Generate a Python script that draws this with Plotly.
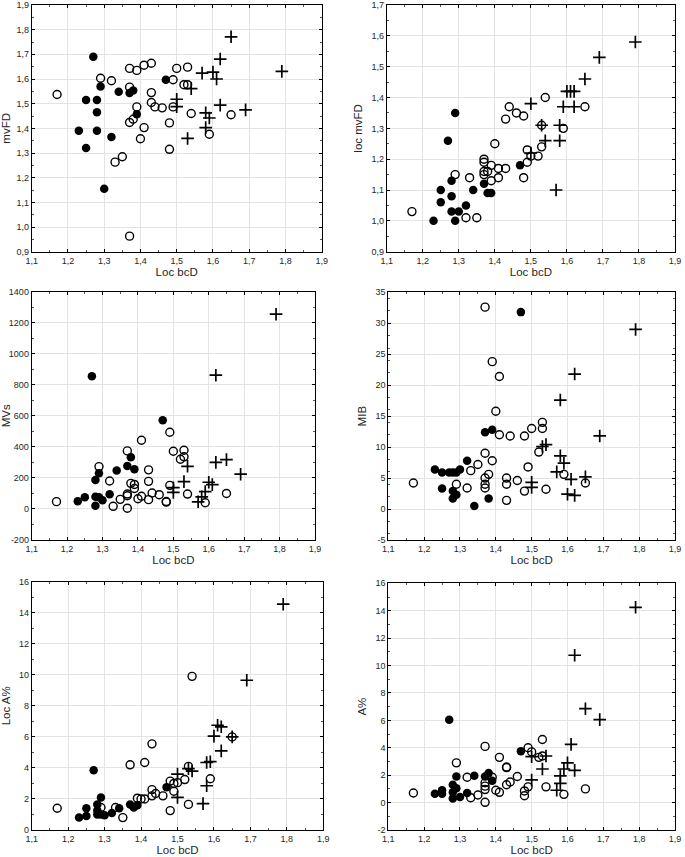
import plotly.graph_objects as go

# ---------------- data ----------------
X_TICKS = [1.1, 1.2, 1.3, 1.4, 1.5, 1.6, 1.7, 1.8, 1.9]
X_TITLE = "Loc bcD"

# Panel 1: mvFD
MVFD_F_X = [1.23, 1.25, 1.25, 1.27, 1.28, 1.28, 1.28, 1.29, 1.30, 1.32, 1.34, 1.37, 1.38, 1.39, 1.47]
MVFD_F_Y = [1.39, 1.515, 1.32, 1.69, 1.515, 1.465, 1.39, 1.57, 1.155, 1.365, 1.548, 1.543, 1.553, 1.457, 1.597]
MVFD_O_X = [1.17, 1.29, 1.32, 1.37, 1.39, 1.41, 1.43, 1.37, 1.39, 1.38, 1.37, 1.41, 1.40, 1.43, 1.43, 1.44,
            1.46, 1.49, 1.48, 1.48, 1.49, 1.50, 1.52, 1.53, 1.53, 1.54, 1.59, 1.65, 1.33, 1.35, 1.37]
MVFD_O_Y = [1.537, 1.603, 1.593, 1.643, 1.635, 1.656, 1.664, 1.567, 1.487, 1.437, 1.424, 1.403, 1.358, 1.545,
            1.505, 1.487, 1.483, 1.487, 1.422, 1.315, 1.597, 1.643, 1.577, 1.577, 1.648, 1.46, 1.376, 1.455,
            1.263, 1.285, 0.963]
MVFD_P_X = [1.65, 1.62, 1.57, 1.60, 1.61, 1.79, 1.50, 1.50, 1.54, 1.62, 1.69, 1.58, 1.59, 1.58, 1.53]
MVFD_P_Y = [1.771, 1.681, 1.624, 1.628, 1.60, 1.631, 1.518, 1.488, 1.561, 1.494, 1.475, 1.463, 1.442, 1.403, 1.359]
MVFD_Y_TICKS = [0.9, 1.0, 1.1, 1.2, 1.3, 1.4, 1.5, 1.6, 1.7, 1.8, 1.9]

# Panel 2: loc mvFD
LMVFD_F_X = [1.23, 1.25, 1.25, 1.27, 1.28, 1.28, 1.28, 1.29, 1.29, 1.30, 1.32, 1.34, 1.37, 1.38, 1.39, 1.47]
LMVFD_F_Y = [1.00, 1.10, 1.06, 1.26, 1.13, 1.08, 1.03, 1.35, 1.00, 1.03, 1.05, 1.10, 1.12, 1.09, 1.09, 1.18]
LMVFD_O_X = [1.17, 1.29, 1.33, 1.32, 1.35, 1.37, 1.37, 1.37, 1.37, 1.38, 1.39, 1.39, 1.41, 1.41, 1.43,
             1.40, 1.43, 1.44, 1.46, 1.48, 1.48, 1.49, 1.49, 1.50, 1.52, 1.53, 1.53, 1.54, 1.59, 1.65]
LMVFD_O_Y = [1.03, 1.15, 1.14, 1.01, 1.01, 1.20, 1.19, 1.16, 1.15, 1.16, 1.18, 1.13, 1.17, 1.14, 1.17,
             1.25, 1.33, 1.37, 1.35, 1.34, 1.14, 1.23, 1.19, 1.21, 1.21, 1.24, 1.31, 1.40, 1.30, 1.37]
LMVFD_P_X = [1.79, 1.69, 1.65, 1.60, 1.61, 1.62, 1.59, 1.62, 1.50, 1.58, 1.53, 1.54, 1.58, 1.57, 1.50]
LMVFD_P_Y = [1.58, 1.53, 1.46, 1.42, 1.42, 1.42, 1.37, 1.37, 1.38, 1.31, 1.31, 1.26, 1.26, 1.10, 1.22]
LMVFD_Y_TICKS = [0.9, 1.0, 1.1, 1.2, 1.3, 1.4, 1.5, 1.6, 1.7]

# Panel 3: MVs
MVS_F_X = [1.23, 1.25, 1.27, 1.28, 1.28, 1.28, 1.29, 1.29, 1.30, 1.32, 1.34, 1.37, 1.38, 1.39, 1.47]
MVS_F_Y = [50, 76, 855, 187, 78, 20, 230, 76, 56, 95, 248, 277, 334, 256, 571]
MVS_O_X = [1.17, 1.29, 1.32, 1.33, 1.35, 1.37, 1.37, 1.37, 1.37, 1.38, 1.39, 1.39, 1.40, 1.41, 1.41, 1.43,
           1.43, 1.43, 1.44, 1.46, 1.48, 1.48, 1.49, 1.49, 1.50, 1.52, 1.53, 1.53, 1.54, 1.59, 1.65]
MVS_O_Y = [47, 273, 180, 17, 62, 85, 96, 5, 374, 165, 158, 132, 66, 82, 443, 252,
           178, 60, 103, 92, 44, 48, 494, 152, 372, 320, 378, 336, 96, 40, 100]
MVS_P_X = [1.79, 1.62, 1.65, 1.62, 1.69, 1.54, 1.53, 1.60, 1.61, 1.50, 1.50, 1.59, 1.58, 1.57]
MVS_P_Y = [1255, 862, 318, 300, 224, 275, 176, 172, 157, 137, 107, 112, 78, 46]
MVS_Y_TICKS = [-200, 0, 200, 400, 600, 800, 1000, 1200, 1400]

# Panel 4: MIB
MIB_F_X = [1.23, 1.25, 1.27, 1.28, 1.29, 1.30, 1.32, 1.25, 1.28, 1.28, 1.29, 1.34, 1.37, 1.39, 1.38, 1.47]
MIB_F_Y = [6.4, 5.9, 5.9, 5.9, 5.9, 6.4, 7.8, 3.3, 2.9, 1.7, 2.3, 0.5, 12.4, 12.8, 1.7, 31.8]
MIB_O_X = [1.17, 1.29, 1.32, 1.33, 1.35, 1.37, 1.37, 1.37, 1.37, 1.37, 1.38, 1.39, 1.39, 1.40, 1.41, 1.41,
           1.43, 1.43, 1.43, 1.44, 1.46, 1.48, 1.48, 1.49, 1.50, 1.52, 1.53, 1.53, 1.54, 1.59, 1.65]
MIB_O_Y = [4.2, 4.0, 3.4, 6.2, 7.2, 9.0, 5.0, 4.0, 3.4, 32.6, 5.6, 7.8, 23.8, 15.8, 12.0, 21.4,
           5.0, 4.0, 1.4, 11.8, 4.6, 11.8, 2.9, 6.8, 13.0, 9.2, 14.0, 13.0, 3.2, 5.6, 4.2]
MIB_P_X = [1.79, 1.62, 1.58, 1.69, 1.53, 1.54, 1.58, 1.59, 1.57, 1.61, 1.65, 1.50, 1.50, 1.60, 1.62]
MIB_P_Y = [29.0, 21.8, 17.6, 11.8, 10.1, 10.4, 8.6, 7.4, 6.0, 4.8, 5.2, 4.3, 3.5, 2.4, 2.2]
MIB_Y_TICKS = [-5, 0, 5, 10, 15, 20, 25, 30, 35]

# Panel 5: Loc A%
LA_F_X = [1.23, 1.25, 1.25, 1.27, 1.28, 1.28, 1.28, 1.29, 1.29, 1.30, 1.32, 1.34, 1.37, 1.38, 1.39, 1.47]
LA_F_Y = [0.8, 0.9, 1.4, 3.85, 1.65, 1.25, 1.0, 2.1, 1.0, 0.95, 1.1, 1.4, 1.65, 1.45, 1.6, 2.75]
LA_O_X = [1.17, 1.29, 1.33, 1.35, 1.37, 1.39, 1.40, 1.41, 1.41, 1.43, 1.43, 1.43, 1.44, 1.46, 1.48, 1.48,
          1.49, 1.49, 1.50, 1.52, 1.53, 1.53, 1.54, 1.59, 1.65]
LA_O_Y = [1.4, 1.45, 1.45, 0.8, 4.2, 2.05, 2.0, 2.0, 4.35, 5.55, 2.6, 2.2, 2.35, 2.2, 3.15, 1.25,
          3.0, 2.5, 3.05, 3.25, 4.1, 1.65, 9.9, 3.3, 6.0]
LA_P_X = [1.79, 1.69, 1.61, 1.62, 1.60, 1.62, 1.58, 1.59, 1.58, 1.57, 1.50, 1.50, 1.53, 1.54, 1.65]
LA_P_Y = [14.55, 9.65, 6.75, 6.65, 6.05, 5.1, 4.35, 4.4, 2.85, 1.7, 3.6, 2.1, 3.95, 3.8, 6.0]
LA_Y_TICKS = [0, 2, 4, 6, 8, 10, 12, 14, 16]

# Panel 6: A%
A_F_X = [1.23, 1.25, 1.25, 1.27, 1.28, 1.28, 1.28, 1.29, 1.29, 1.30, 1.32, 1.34, 1.37, 1.38, 1.39, 1.47]
A_F_Y = [0.65, 0.9, 0.65, 6.05, 1.3, 0.75, 0.3, 1.9, 1.05, 0.4, 0.7, 1.95, 1.9, 2.15, 1.6, 3.75]
A_O_X = [1.17, 1.29, 1.32, 1.33, 1.35, 1.37, 1.37, 1.37, 1.37, 1.37, 1.39, 1.40, 1.41, 1.41, 1.43,
         1.43, 1.43, 1.44, 1.46, 1.48, 1.48, 1.49, 1.49, 1.50, 1.52, 1.53, 1.53, 1.54, 1.59, 1.65]
A_O_Y = [0.7, 2.9, 1.85, 0.35, 0.55, 4.1, 1.45, 1.2, 0.95, 0.02, 1.85, 0.9, 0.75, 3.3, 2.6,
         2.55, 1.3, 1.5, 1.9, 0.85, 0.5, 1.15, 4.0, 3.7, 3.3, 3.4, 4.6, 1.15, 0.6, 1.0]
A_P_X = [1.79, 1.62, 1.65, 1.69, 1.61, 1.60, 1.59, 1.62, 1.58, 1.58, 1.57, 1.50, 1.54, 1.53, 1.50]
A_P_Y = [14.25, 10.75, 6.85, 6.05, 4.25, 2.9, 2.45, 2.35, 1.95, 1.4, 0.9, 3.35, 3.4, 2.45, 1.65]
A_Y_TICKS = [-2, 0, 2, 4, 6, 8, 10, 12, 14, 16]

PANELS = [
    ("mvFD", MVFD_F_X, MVFD_F_Y, MVFD_O_X, MVFD_O_Y, MVFD_P_X, MVFD_P_Y, MVFD_Y_TICKS, 1),
    ("loc mvFD", LMVFD_F_X, LMVFD_F_Y, LMVFD_O_X, LMVFD_O_Y, LMVFD_P_X, LMVFD_P_Y, LMVFD_Y_TICKS, 1),
    ("MVs", MVS_F_X, MVS_F_Y, MVS_O_X, MVS_O_Y, MVS_P_X, MVS_P_Y, MVS_Y_TICKS, 0),
    ("MIB", MIB_F_X, MIB_F_Y, MIB_O_X, MIB_O_Y, MIB_P_X, MIB_P_Y, MIB_Y_TICKS, 0),
    ("Loc A%", LA_F_X, LA_F_Y, LA_O_X, LA_O_Y, LA_P_X, LA_P_Y, LA_Y_TICKS, 0),
    ("A%", A_F_X, A_F_Y, A_O_X, A_O_Y, A_P_X, A_P_Y, A_Y_TICKS, 0),
]

# ---------------- layout (pixel boxes of each plot frame) ----------------
W, H = 685, 857
BOXES = [
    (31.7, 321.7, 5.0, 251.7),
    (386.7, 675.0, 5.0, 251.7),
    (31.7, 315.0, 291.7, 540.0),
    (388.3, 675.0, 292.3, 540.0),
    (31.7, 323.3, 581.7, 830.0),
    (388.3, 675.0, 583.3, 830.0),
]

FONT = "Liberation Sans, Arial, sans-serif"
TXT = "#262626"


def fmt(v, dec):
    s = f"{v:.{dec}f}" if dec else f"{v:d}" if isinstance(v, int) else f"{v:g}"
    return s.replace(".", ",")


fig = go.Figure()
layout = {}
for i, (ytitle, fx, fy, ox, oy, px, py, yt, ydec) in enumerate(PANELS):
    n = i + 1
    xa = "x" if n == 1 else f"x{n}"
    ya = "y" if n == 1 else f"y{n}"
    fig.add_trace(go.Scatter(x=ox, y=oy, mode="markers", xaxis=xa, yaxis=ya, showlegend=False,
                             marker=dict(symbol="circle-open", size=8, color="black",
                                         line=dict(width=1.4, color="black"))))
    fig.add_trace(go.Scatter(x=fx, y=fy, mode="markers", xaxis=xa, yaxis=ya, showlegend=False,
                             marker=dict(symbol="circle", size=8.5, color="black",
                                         line=dict(width=0))))
    fig.add_trace(go.Scatter(x=px, y=py, mode="markers", xaxis=xa, yaxis=ya, showlegend=False,
                             marker=dict(symbol="cross-thin", size=9, color="black",
                                         line=dict(width=1.7, color="black"))))
    x0, x1, y0, y1 = BOXES[i]
    common = dict(showline=True, linecolor="black", linewidth=1, mirror="ticks",
                  showgrid=True, gridcolor="#e3e3e3", gridwidth=1, zeroline=False,
                  automargin=False, ticklabeloverflow="allow",
                  ticks="inside", ticklen=3, tickcolor="black", tickwidth=1,
                  tickfont=dict(family=FONT, size=9, color=TXT),
                  minor=dict(ticks="inside", ticklen=2, tickcolor="#555", nticks=5, showgrid=False))
    layout["xaxis" if n == 1 else f"xaxis{n}"] = dict(
        common, domain=[x0 / W, x1 / W], range=[X_TICKS[0], X_TICKS[-1]], anchor=ya,
        tickvals=X_TICKS, ticktext=[fmt(v, 1) for v in X_TICKS],
        title=dict(text=X_TITLE, font=dict(family=FONT, size=11.5, color=TXT), standoff=3))
    layout["yaxis" if n == 1 else f"yaxis{n}"] = dict(
        common, domain=[1 - y1 / H, 1 - y0 / H], range=[yt[0], yt[-1]], anchor=xa,
        tickvals=yt, ticktext=[fmt(v, ydec) for v in yt],
        title=dict(text=ytitle, font=dict(family=FONT, size=11.5, color=TXT), standoff=6))

fig.update_layout(**layout)
fig.update_layout(width=W, height=H, margin=dict(l=0, r=0, t=0, b=0, autoexpand=False),
                  paper_bgcolor="white", plot_bgcolor="white")
fig.write_html("out.html", config={"displayModeBar": False},
               post_script="document.body.style.margin='0';document.body.style.overflow='hidden';")
